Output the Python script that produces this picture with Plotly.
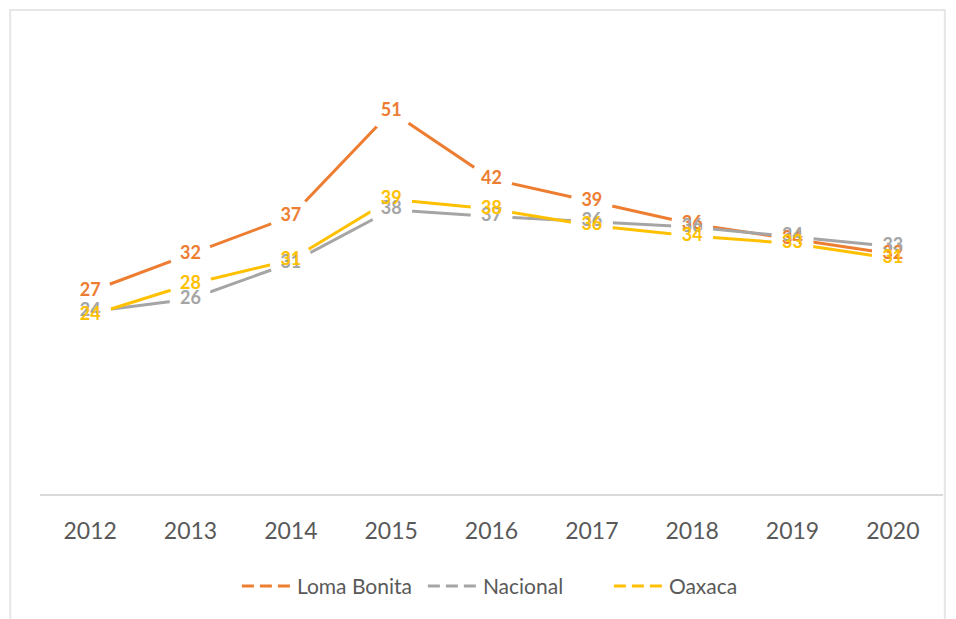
import plotly.graph_objects as go

years = ["2012", "2013", "2014", "2015", "2016", "2017", "2018", "2019", "2020"]
loma_bonita = [27, 32, 37, 51, 42, 39, 36, 34, 32]
nacional = [24.3, 26, 30.8, 37.9, 37, 36.3, 35.6, 34.3, 33]
oaxaca = [23.8, 28, 31.2, 39.3, 38, 35.8, 34.4, 33.4, 31.4]

series = [
    ("Loma Bonita", loma_bonita, "#ED7D31"),
    ("Nacional", nacional, "#A5A5A5"),
    ("Oaxaca", oaxaca, "#FFC000"),
]

FONT = "Lato"
fig = go.Figure()

# lines
for name, vals, col in series:
    fig.add_trace(go.Scatter(x=years, y=vals, mode="lines", line=dict(color=col, width=3),
                             showlegend=False, hoverinfo="skip"))
# white masks around data points (label gaps)
for name, vals, col in series:
    fig.add_trace(go.Scatter(x=years, y=vals, mode="markers",
                             marker=dict(color="white", size=42, symbol="circle", line=dict(width=0)),
                             showlegend=False, hoverinfo="skip"))
# data labels
for name, vals, col in series:
    fig.add_trace(go.Scatter(x=years, y=vals, mode="text", texttemplate="%{y:.0f}",
                             textposition="middle center",
                             textfont=dict(color=col, size=18, family=FONT, weight="bold"),
                             showlegend=False, hoverinfo="skip"))
# legend entries
for name, vals, col in series:
    fig.add_trace(go.Scatter(x=[None], y=[None], mode="lines", name=name,
                             line=dict(color=col, width=3, dash="12px,6px")))

fig.update_layout(
    width=956, height=619,
    margin=dict(l=32, r=21, t=36, b=133),
    paper_bgcolor="white", plot_bgcolor="white",
    font=dict(family=FONT, color="#595959"),
    legend=dict(orientation="h", x=0.527, xanchor="center", y=-0.205, yanchor="middle",
                font=dict(size=21, color="#595959"), itemwidth=50, traceorder="normal",
                entrywidth=121, entrywidthmode="pixels"),
    shapes=[dict(type="rect", xref="paper", yref="paper", x0=-0.033, x1=1.002, y0=-0.4, y1=1.0756,
                 line=dict(color="#E6E6E6", width=2), layer="below")],
)
fig.update_xaxes(type="category", range=[-0.5, 8.5], showgrid=False, showline=True,
                 linecolor="#D9D9D9", linewidth=1.5, ticks="outside", ticklen=16,
                 tickcolor="rgba(0,0,0,0)", tickfont=dict(size=23, color="#595959", family=FONT))
fig.update_yaxes(range=[0, 60], visible=False, showgrid=False, zeroline=False)

fig.write_html("out.html")
